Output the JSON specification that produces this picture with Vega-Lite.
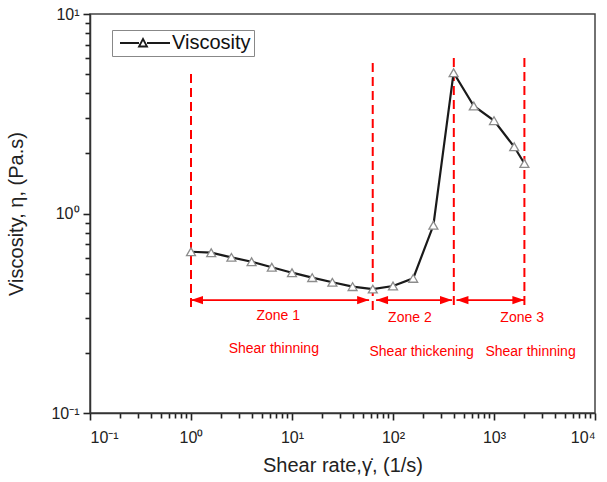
{
  "$schema": "https://vega.github.io/schema/vega-lite/v6.json",
  "width": 505,
  "height": 399,
  "autosize": "none",
  "padding": {"left": 90, "top": 14, "right": 12, "bottom": 69},
  "background": "white",
  "config": {
    "font": "Liberation Sans",
    "view": {"stroke": "#444", "strokeWidth": 1.5},
    "axis": {
      "grid": false,
      "ticks": true,
      "domainColor": "#333",
      "domainWidth": 1.5,
      "tickColor": "#222",
      "tickWidth": 1.6,
      "labelFont": "Liberation Sans",
      "labelFontSize": 16,
      "labelColor": "#222",
      "titleFont": "Liberation Sans",
      "titleFontSize": 20,
      "titleFontWeight": "normal",
      "titleColor": "#222"
    }
  },
  "datasets": {
    "visc": [
      {"rate": 1, "eta": 0.643, "series": "Viscosity"},
      {"rate": 1.585, "eta": 0.636, "series": "Viscosity"},
      {"rate": 2.512, "eta": 0.603, "series": "Viscosity"},
      {"rate": 3.981, "eta": 0.573, "series": "Viscosity"},
      {"rate": 6.31, "eta": 0.538, "series": "Viscosity"},
      {"rate": 10, "eta": 0.505, "series": "Viscosity"},
      {"rate": 15.85, "eta": 0.477, "series": "Viscosity"},
      {"rate": 25.12, "eta": 0.452, "series": "Viscosity"},
      {"rate": 39.81, "eta": 0.43, "series": "Viscosity"},
      {"rate": 63.1, "eta": 0.418, "series": "Viscosity"},
      {"rate": 100, "eta": 0.433, "series": "Viscosity"},
      {"rate": 158.5, "eta": 0.473, "series": "Viscosity"},
      {"rate": 251.2, "eta": 0.873, "series": "Viscosity"},
      {"rate": 398.1, "eta": 5.08, "series": "Viscosity"},
      {"rate": 631, "eta": 3.46, "series": "Viscosity"},
      {"rate": 1000, "eta": 2.92, "series": "Viscosity"},
      {"rate": 1585, "eta": 2.16, "series": "Viscosity"},
      {"rate": 2000, "eta": 1.78, "series": "Viscosity"}
    ],
    "vlines": [
      {"x": 1, "y1": 0.34, "y2": 5.24},
      {"x": 63, "y1": 0.328, "y2": 6.02},
      {"x": 400, "y1": 0.348, "y2": 6.08},
      {"x": 2000, "y1": 0.348, "y2": 6.08}
    ],
    "arrows": [
      {"x1": 1, "x2": 58, "y": 0.368},
      {"x1": 68, "x2": 384, "y": 0.368},
      {"x1": 425, "x2": 2000, "y": 0.368}
    ],
    "heads": [
      {"x": 1, "y": 0.368, "dir": "L"},
      {"x": 58, "y": 0.368, "dir": "R"},
      {"x": 68, "y": 0.368, "dir": "L"},
      {"x": 384, "y": 0.368, "dir": "R"},
      {"x": 425, "y": 0.368, "dir": "L"},
      {"x": 2000, "y": 0.368, "dir": "R"}
    ],
    "labels": [
      {"label": "Zone 1", "x": 7.3, "y": 0.306},
      {"label": "Zone 2", "x": 147, "y": 0.2985},
      {"label": "Zone 3", "x": 1900, "y": 0.2985},
      {"label": "Shear thinning", "x": 6.6, "y": 0.209},
      {"label": "Shear thickening", "x": 192, "y": 0.203},
      {"label": "Shear thinning", "x": 2300, "y": 0.203}
    ]
  },
  "resolve": {"axis": {"x": "independent", "y": "independent"}},
  "layer": [
    {
      "data": {"name": "vlines"},
      "mark": {"type": "rule", "color": "#ff0000", "strokeWidth": 2, "strokeDash": [9, 5]},
      "encoding": {
        "x": {"field": "x", "type": "quantitative",
          "scale": {"type": "log", "domain": [0.1, 10000], "nice": false},
          "axis": {"orient": "bottom",
            "values": [0.2,0.3,0.4,0.5,0.6,0.7,0.8,0.9,2,3,4,5,6,7,8,9,20,30,40,50,60,70,80,90,200,300,400,500,600,700,800,900,2000,3000,4000,5000,6000,7000,8000,9000],
            "ticks": true, "tickSize": 5, "tickColor": "#222", "tickWidth": 1.6,
            "labels": false, "domain": false, "title": null}},
        "y": {"field": "y1", "type": "quantitative",
          "scale": {"type": "log", "domain": [0.1, 10], "nice": false},
          "axis": {"orient": "left",
            "values": [0.2,0.3,0.4,0.5,0.6,0.7,0.8,0.9,2,3,4,5,6,7,8,9],
            "ticks": true, "tickSize": 5, "tickColor": "#222", "tickWidth": 1.6,
            "labels": false, "domain": false, "title": null}},
        "y2": {"field": "y2"}
      }
    },
    {
      "data": {"name": "arrows"},
      "mark": {"type": "rule", "color": "#ff0000", "strokeWidth": 1.8},
      "encoding": {
        "x": {"field": "x1", "type": "quantitative", "scale": {"type": "log", "domain": [0.1, 10000], "nice": false}, "axis": null},
        "x2": {"field": "x2"},
        "y": {"field": "y", "type": "quantitative", "scale": {"type": "log", "domain": [0.1, 10], "nice": false}, "axis": null}
      }
    },
    {
      "data": {"name": "heads"},
      "mark": {"type": "point", "filled": true, "color": "#ff0000", "opacity": 1, "size": 144, "strokeWidth": 0},
      "encoding": {
        "x": {"field": "x", "type": "quantitative", "scale": {"type": "log", "domain": [0.1, 10000], "nice": false}, "axis": null},
        "y": {"field": "y", "type": "quantitative", "scale": {"type": "log", "domain": [0.1, 10], "nice": false}, "axis": null},
        "shape": {"field": "dir", "type": "nominal", "legend": null,
          "scale": {"domain": ["L", "R"], "range": ["M0,0 L2,-0.7 L2,0.7 Z", "M0,0 L-2,-0.7 L-2,0.7 Z"]}}
      }
    },
    {
      "data": {"name": "labels"},
      "mark": {"type": "text", "color": "#ff0000", "font": "Liberation Sans", "fontSize": 14, "align": "center", "baseline": "middle"},
      "encoding": {
        "x": {"field": "x", "type": "quantitative", "scale": {"type": "log", "domain": [0.1, 10000], "nice": false}, "axis": null},
        "y": {"field": "y", "type": "quantitative", "scale": {"type": "log", "domain": [0.1, 10], "nice": false}, "axis": null},
        "text": {"field": "label"}
      }
    },
    {
      "data": {"name": "visc"},
      "mark": {"type": "line", "strokeWidth": 2.2},
      "encoding": {
        "x": {"field": "rate", "type": "quantitative",
          "scale": {"type": "log", "domain": [0.1, 10000], "nice": false},
          "axis": {"orient": "bottom", "values": [0.1, 1, 10, 100, 1000, 10000], "tickSize": 7, "labelPadding": 9,
            "labelExpr": "datum.value < 0.5 ? '10⁻¹' : datum.value < 5 ? '10⁰' : datum.value < 50 ? '10¹' : datum.value < 500 ? '10²' : datum.value < 5000 ? '10³' : '10⁴'",
            "title": "Shear rate,γ̇, (1/s)", "titlePadding": 10}},
        "y": {"field": "eta", "type": "quantitative",
          "scale": {"type": "log", "domain": [0.1, 10], "nice": false},
          "axis": {"orient": "left", "values": [0.1, 1, 10], "tickSize": 7, "labelPadding": 4,
            "labelExpr": "datum.value < 0.5 ? '10⁻¹' : datum.value < 5 ? '10⁰' : '10¹'",
            "title": "Viscosity, η, (Pa.s)", "titlePadding": 24}},
        "color": {"field": "series", "type": "nominal",
          "scale": {"domain": ["Viscosity"], "range": ["#1a1a1a"]},
          "legend": {"orient": "none", "legendX": 22, "legendY": 16, "title": null,
            "symbolType": "M-1,0 L2.8,0 M4.4,0 L9,0 M3.6,-0.8 L4.4,0.7 L2.8,0.7 Z",
            "symbolSize": 100, "symbolStrokeWidth": 1.8,
            "labelFont": "Liberation Sans", "labelFontSize": 20, "labelColor": "#111", "labelOffset": 37,
            "padding": 3, "strokeColor": "#888", "fillColor": "white"}}
      }
    },
    {
      "data": {"name": "visc"},
      "mark": {"type": "point", "shape": "triangle-up", "filled": true, "fill": "white", "stroke": "#8c8c8c", "strokeWidth": 1.3, "opacity": 1, "size": 80},
      "encoding": {
        "x": {"field": "rate", "type": "quantitative", "scale": {"type": "log", "domain": [0.1, 10000], "nice": false}, "axis": null},
        "y": {"field": "eta", "type": "quantitative", "scale": {"type": "log", "domain": [0.1, 10], "nice": false}, "axis": null}
      }
    }
  ]
}
